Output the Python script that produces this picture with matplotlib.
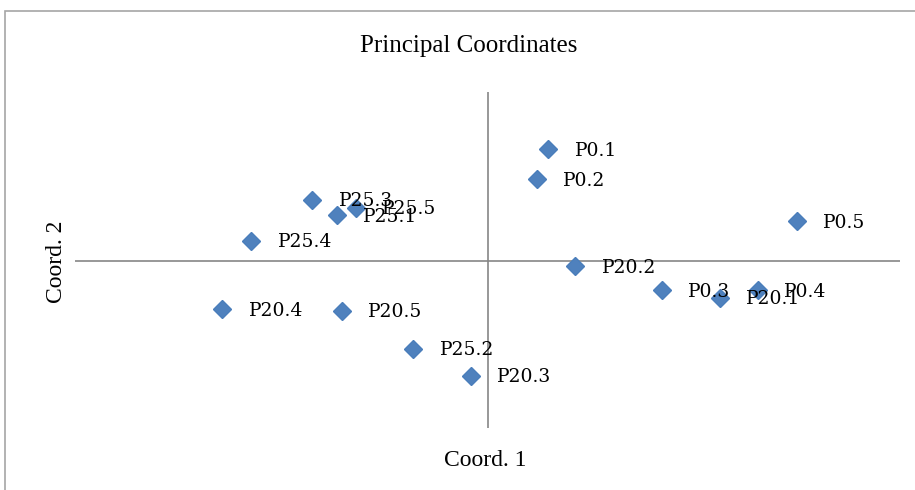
import matplotlib
matplotlib.use('Agg')
import matplotlib.pyplot as plt
from matplotlib.patches import Rectangle

# Sample names and principal coordinate values
names = ['P0.1', 'P0.2', 'P0.5', 'P25.3', 'P25.5', 'P25.1', 'P25.4', 'P20.2',
         'P0.3', 'P20.1', 'P0.4', 'P20.4', 'P20.5', 'P25.2', 'P20.3']
coord1 = [0.059, 0.048, 0.300, -0.170, -0.128, -0.146, -0.229, 0.085,
          0.169, 0.225, 0.262, -0.257, -0.141, -0.072, -0.016]
coord2 = [0.200, 0.146, 0.071, 0.109, 0.095, 0.082, 0.036, -0.009,
          -0.052, -0.066, -0.052, -0.086, -0.089, -0.157, -0.205]

plt.rcParams['font.family'] = ['Liberation Serif', 'DejaVu Serif']

fig = plt.figure(figsize=(9.15, 4.9), dpi=100)
W, H = 915, 490

# chart border (cut off at the right and bottom in the reference)
fig.patches.append(Rectangle((5 / W, -0.1), 1.1, 1 - 11 / H + 0.1, transform=fig.transFigure,
                             fill=False, edgecolor='#a6a6a6', linewidth=1.2))

ax = fig.add_axes([75 / W, (H - 428) / H, 825 / W, 336 / H])
ax.set_xlim(-0.4, 0.4)
ax.set_ylim(-0.298, 0.302)
ax.axis('off')

# axes crossing at the origin
ax.axhline(0, color='#868686', linewidth=1.2, zorder=1)
ax.axvline(0, color='#868686', linewidth=1.2, zorder=1)

ax.plot(coord1, coord2, linestyle='none', marker='D', markersize=9.5,
        markerfacecolor='#4f81bd', markeredgecolor='#4a7ebb', zorder=3)

for n, x, y in zip(names, coord1, coord2):
    ax.annotate(n, (x, y), xytext=(19, -1), textcoords='offset points',
                va='center', ha='left', fontsize=13.5, family='DejaVu Serif',
                color='black', zorder=4)

fig.text(469 / W, 1 - 46 / H, 'Principal Coordinates', ha='center', va='center', fontsize=18)
fig.text(485 / W, 1 - 460 / H, 'Coord. 1', ha='center', va='center', fontsize=17)
fig.text(57 / W, 1 - 262 / H, 'Coord. 2', ha='center', va='center', fontsize=17, rotation=90)

fig.savefig('out.png', dpi=100)
